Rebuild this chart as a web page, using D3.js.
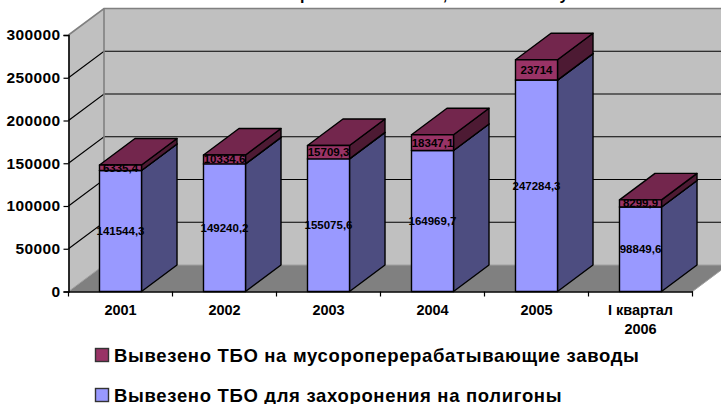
<!DOCTYPE html>
<html>
<head>
<meta charset="utf-8">
<script src="https://cdn.jsdelivr.net/npm/d3@7"></script>
<style>
    body { margin: 0; background: #fff; }
    svg { display: block; }
    text { font-family: "Liberation Sans", Arial, sans-serif; font-weight: bold; fill: #000; }
    .y-axis text { font-size: 15.5px; letter-spacing: 0.4px; }
    .x-axis text { font-size: 14.5px; }
    .value { font-size: 11.5px; text-anchor: middle; }
    .legend-label { font-size: 18.5px; letter-spacing: 0.67px; }
</style>
</head>
<body>
<svg id="chart" width="721" height="404"></svg>
<script>
// Values
var categories = ["2001", "2002", "2003", "2004", "2005", "I квартал|2006"];
var landfill = [141544.3, 149240.2, 155075.6, 164969.7, 247284.3, 98849.6];
var recycling = [6335.4, 10334.6, 15709.3, 18347.1, 23714, 8299.9];
var yTicks = [0, 50000, 100000, 150000, 200000, 250000, 300000];
var seriesNames = ["Вывезено ТБО для захоронения на полигоны", "Вывезено ТБО на мусороперерабатывающие заводы"];

// The title is cut off by the top of the image, only these descenders show
var titleScraps = [["р", 305], [",", 445], ["у", 564]];

// Colors: front, top, side
var colors = [
    { front: "#9999ff", top: "#73739f", side: "#4d4d80" },
    { front: "#993366", top: "#73264d", side: "#4d1a33" }
];

var svg = d3.select("#chart");

// Front plane of the chart, and how far the 3D depth shifts things
var plotLeft = 68.5, plotRight = 692.5, plotTop = 35, plotBottom = 291.5;
var depthX = 35.5, depthY = -26.5;

var xScale = d3.scaleBand()
    .domain(categories)
    .range([plotLeft, plotRight])
    .paddingInner(0.596)
    .paddingOuter(0.298);

var yScale = d3.scaleLinear()
    .domain([0, 300000])
    .range([plotBottom, plotTop]);

function points(list) {
    return list.map(function(p) { return p.join(","); }).join(" ");
}

// Title scraps
titleScraps.forEach(function(d) {
    svg.append("text")
        .attr("x", d[1])
        .attr("y", 0)
        .attr("text-anchor", "middle")
        .style("font-size", "16px")
        .text(d[0]);
});

// Walls
svg.append("polygon")
    .attr("points", points([[plotLeft, plotBottom], [plotLeft + depthX, plotBottom + depthY], [plotLeft + depthX, plotTop + depthY], [plotLeft, plotTop]]))
    .style("fill", "#c0c0c0");

svg.append("polygon")
    .attr("points", points([[plotLeft + depthX, plotBottom + depthY], [plotRight + depthX, plotBottom + depthY], [plotRight + depthX, plotTop + depthY], [plotLeft + depthX, plotTop + depthY]]))
    .style("fill", "#c0c0c0");

// Gridlines run over the left wall and then along the back wall
var grid = svg.append("g");
yTicks.slice(1, -1).forEach(function(t) {
    grid.append("polyline")
        .attr("points", points([[plotLeft, yScale(t)], [plotLeft + depthX, yScale(t) + depthY], [plotRight + depthX, yScale(t) + depthY]]))
        .style("fill", "none")
        .style("stroke", "#000")
        .style("stroke-width", 1.2);
});

// Wall edges
svg.append("polyline")
    .attr("points", points([[plotLeft, plotTop], [plotLeft + depthX, plotTop + depthY], [plotRight + depthX, plotTop + depthY]]))
    .style("fill", "none")
    .style("stroke", "#808080")
    .style("stroke-width", 1.6);

svg.append("line")
    .attr("x1", plotLeft + depthX)
    .attr("x2", plotLeft + depthX)
    .attr("y1", plotTop + depthY)
    .attr("y2", plotBottom + depthY)
    .style("stroke", "#808080")
    .style("stroke-width", 1.6);

// Floor
svg.append("polygon")
    .attr("points", points([[plotLeft, plotBottom], [plotLeft + depthX, plotBottom + depthY], [plotRight + depthX, plotBottom + depthY], [plotRight, plotBottom]]))
    .style("fill", "#808080")
    .style("stroke", "#a0a0a0")
    .style("stroke-width", 1);

// Stack the two series and draw each bar as three faces
var rows = categories.map(function(c, i) {
    return { category: c, a: landfill[i], b: recycling[i] };
});
var stacked = d3.stack().keys(["a", "b"])(rows);

stacked.forEach(function(layer, s) {
    var g = svg.append("g");
    layer.forEach(function(d, i) {
        var x0 = xScale(categories[i]);
        var x1 = x0 + xScale.bandwidth();
        var y0 = yScale(d[0]);
        var y1 = yScale(d[1]);

        g.append("polygon")
            .attr("points", points([[x1, y0], [x1 + depthX, y0 + depthY], [x1 + depthX, y1 + depthY], [x1, y1]]))
            .style("fill", colors[s].side);

        g.append("polygon")
            .attr("points", points([[x0, y1], [x0 + depthX, y1 + depthY], [x1 + depthX, y1 + depthY], [x1, y1]]))
            .style("fill", colors[s].top);

        g.append("rect")
            .attr("x", x0)
            .attr("y", y1)
            .attr("width", x1 - x0)
            .attr("height", y0 - y1)
            .style("fill", colors[s].front);
    });
    g.selectAll("polygon, rect")
        .style("stroke", "#000")
        .style("stroke-width", 1.4)
        .style("stroke-linejoin", "round");
});

// Data labels go on last so they sit over the bar edges
var labelSeries = [landfill, recycling];
stacked.forEach(function(layer, s) {
    layer.forEach(function(d, i) {
        svg.append("text")
            .attr("class", "value")
            .attr("x", xScale(categories[i]) + xScale.bandwidth() / 2)
            .attr("y", (yScale(d[0]) + yScale(d[1])) / 2 + 4)
            .text(String(labelSeries[s][i]).replace(".", ","));
    });
});

// Axes
var yAxis = d3.axisLeft(yScale)
    .tickValues(yTicks)
    .tickFormat(d3.format("d"))
    .tickSize(5)
    .tickPadding(3);

var yG = svg.append("g")
    .attr("class", "y-axis")
    .attr("transform", "translate(" + plotLeft + ",0)")
    .call(yAxis);

var xAxis = d3.axisBottom(xScale)
    .tickSize(0)
    .tickPadding(13);

var xG = svg.append("g")
    .attr("class", "x-axis")
    .attr("transform", "translate(0," + plotBottom + ")")
    .call(xAxis);

// Ticks sit between the categories, not under them
var step = xScale.step();
xG.selectAll(".edge")
    .data(d3.range(categories.length + 1))
    .enter()
    .append("line")
    .attr("class", "edge")
    .attr("x1", function(d) { return plotLeft + d * step; })
    .attr("x2", function(d) { return plotLeft + d * step; })
    .attr("y1", 0)
    .attr("y2", 5)
    .style("stroke", "#000")
    .style("stroke-width", 1.2);

// Split the two line category label
xG.selectAll(".tick text").each(function(d) {
    var parts = d.split("|");
    var label = d3.select(this).text(null);
    parts.forEach(function(p, i) {
        label.append("tspan")
            .attr("x", 0)
            .attr("dy", i === 0 ? "0.71em" : 19)
            .text(p);
    });
});

[yG, xG].forEach(function(g) {
    g.select(".domain").style("stroke", "#000").style("stroke-width", 1.6);
    g.selectAll(".tick line").style("stroke", "#000").style("stroke-width", 1.2);
});

// Legend
var legendRows = [
    { name: seriesNames[1], color: colors[1].front, y: 348.5 },
    { name: seriesNames[0], color: colors[0].front, y: 388.5 }
];

var legend = svg.selectAll(".legend-item")
    .data(legendRows)
    .enter()
    .append("g")
    .attr("class", "legend-item");

legend.append("rect")
    .attr("x", 95.5)
    .attr("y", function(d) { return d.y; })
    .attr("width", 13)
    .attr("height", 13)
    .style("fill", function(d) { return d.color; })
    .style("stroke", "#333")
    .style("stroke-width", 1.4);

legend.append("text")
    .attr("class", "legend-label")
    .attr("x", 114)
    .attr("y", function(d) { return d.y + 13; })
    .text(function(d) { return d.name; });
</script>
</body>
</html>
